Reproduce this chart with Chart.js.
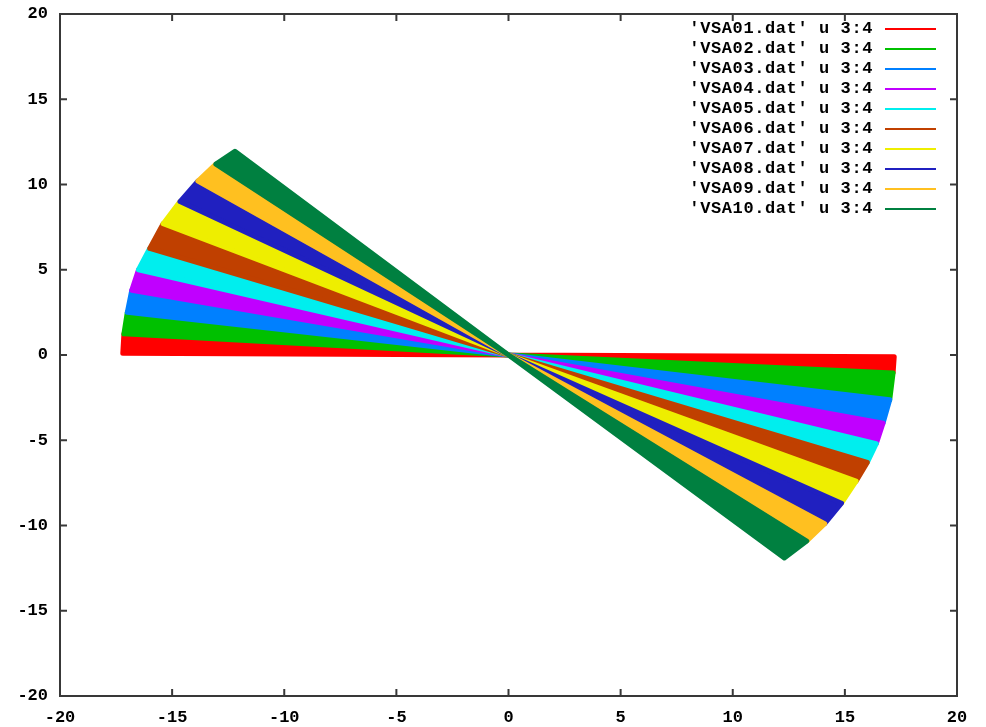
<!DOCTYPE html>
<html>
<head>
<meta charset="utf-8">
<script src="https://cdn.jsdelivr.net/npm/chart.js@4/dist/chart.umd.min.js"></script>
<style>
  body { margin: 0; background: #fff; }
  #wrap { width: 986px; height: 727px; }
</style>
</head>
<body>
<div id="wrap"><canvas id="chart"></canvas></div>
<script>
// data files plotted with "u 3:4"
const files = ['VSA01.dat', 'VSA02.dat', 'VSA03.dat', 'VSA04.dat', 'VSA05.dat',
               'VSA06.dat', 'VSA07.dat', 'VSA08.dat', 'VSA09.dat', 'VSA10.dat'];
const colors = ['#ff0000', '#00c000', '#0080ff', '#c000ff', '#00eeee',
                '#c04000', '#eeee00', '#2020c0', '#ffc020', '#008040'];

// tips of the band edges (left half and right half)
const leftTipX  = [-17.2, -17.15, -17.0, -16.8, -16.5, -16.0, -15.4, -14.65, -13.85, -13.05, -12.2];
const leftTipY  = [0.1, 1.24, 2.5, 3.8, 5.0, 6.25, 7.7, 9.0, 10.2, 11.2, 11.95];
const rightTipX = [17.2, 17.15, 17.0, 16.7, 16.4, 16.0, 15.5, 14.85, 14.1, 13.3, 12.3];
const rightTipY = [-0.1, -1.05, -2.63, -4.0, -5.2, -6.3, -7.4, -8.69, -9.89, -10.91, -11.9];

const tickValues = [-20, -15, -10, -5, 0, 5, 10, 15, 20];

const fontFamily = '"Liberation Mono", "DejaVu Sans Mono", monospace';

const datasets = files.map((f, i) => ({
  label: "'" + f + "' u 3:4",
  data: [
    { x: 0, y: 0 },
    { x: leftTipX[i], y: leftTipY[i] },
    { x: leftTipX[i + 1], y: leftTipY[i + 1] },
    { x: 0, y: 0 },
    { x: rightTipX[i], y: rightTipY[i] },
    { x: rightTipX[i + 1], y: rightTipY[i + 1] },
    { x: 0, y: 0 }
  ],
  showLine: true,
  fill: 'shape',
  backgroundColor: colors[i],
  borderColor: colors[i],
  borderWidth: 5,
  borderJoinStyle: 'round',
  borderCapStyle: 'round',
  pointRadius: 0,
  tension: 0,
  order: files.length - i
}));

// gnuplot style frame with inward ticks on all four sides
const framePlugin = {
  id: 'frame',
  afterDraw(chart) {
    const { ctx, chartArea: a, scales } = chart;
    ctx.save();
    ctx.strokeStyle = '#383838';
    ctx.lineWidth = 2;
    ctx.strokeRect(a.left, a.top, a.right - a.left, a.bottom - a.top);
    ctx.beginPath();
    tickValues.forEach(v => {
      const px = scales.x.getPixelForValue(v);
      ctx.moveTo(px, a.bottom); ctx.lineTo(px, a.bottom - 7);
      ctx.moveTo(px, a.top); ctx.lineTo(px, a.top + 7);
      const py = scales.y.getPixelForValue(v);
      ctx.moveTo(a.left, py); ctx.lineTo(a.left + 7, py);
      ctx.moveTo(a.right, py); ctx.lineTo(a.right - 7, py);
    });
    ctx.stroke();
    ctx.restore();
  }
};

// key in the top right corner: text first, then the line sample
const keyPlugin = {
  id: 'key',
  afterDraw(chart) {
    const { ctx, chartArea: a } = chart;
    ctx.save();
    ctx.font = 'bold 17px ' + fontFamily;
    ctx.letterSpacing = '0.6px';
    ctx.textAlign = 'right';
    ctx.textBaseline = 'middle';
    chart.data.datasets.forEach((ds, i) => {
      const y = a.top + 15 + i * 20;
      ctx.fillStyle = '#000';
      ctx.fillText(ds.label, a.right - 84, y);
      ctx.strokeStyle = ds.borderColor;
      ctx.lineWidth = 2;
      ctx.beginPath();
      ctx.moveTo(a.right - 72, y);
      ctx.lineTo(a.right - 21, y);
      ctx.stroke();
    });
    ctx.restore();
  }
};

new Chart(document.getElementById('chart'), {
  type: 'scatter',
  data: { datasets },
  options: {
    responsive: true,
    maintainAspectRatio: false,
    animation: false,
    layout: { padding: { top: 14, right: 29, left: 0, bottom: 0 } },
    plugins: {
      legend: { display: false },
      tooltip: { enabled: false }
    },
    scales: {
      x: {
        type: 'linear',
        min: -20, max: 20,
        grid: { display: false, drawTicks: false },
        border: { display: false },
        ticks: { stepSize: 5, autoSkip: false, maxRotation: 0, padding: 12, color: '#000',
                 font: { family: fontFamily, size: 17, weight: 'bold' },
                 callback: v => String(v) },
        afterFit: s => { s.height = 31; }
      },
      y: {
        type: 'linear',
        min: -20, max: 20,
        grid: { display: false, drawTicks: false },
        border: { display: false },
        // small lineHeight so the top label does not push the plot down
        ticks: { stepSize: 5, autoSkip: false, padding: 12, color: '#000',
                 font: { family: fontFamily, size: 17, weight: 'bold', lineHeight: 0.2 },
                 callback: v => String(v) },
        afterFit: s => { s.width = 60; }
      }
    }
  },
  plugins: [framePlugin, keyPlugin]
});
</script>
</body>
</html>
